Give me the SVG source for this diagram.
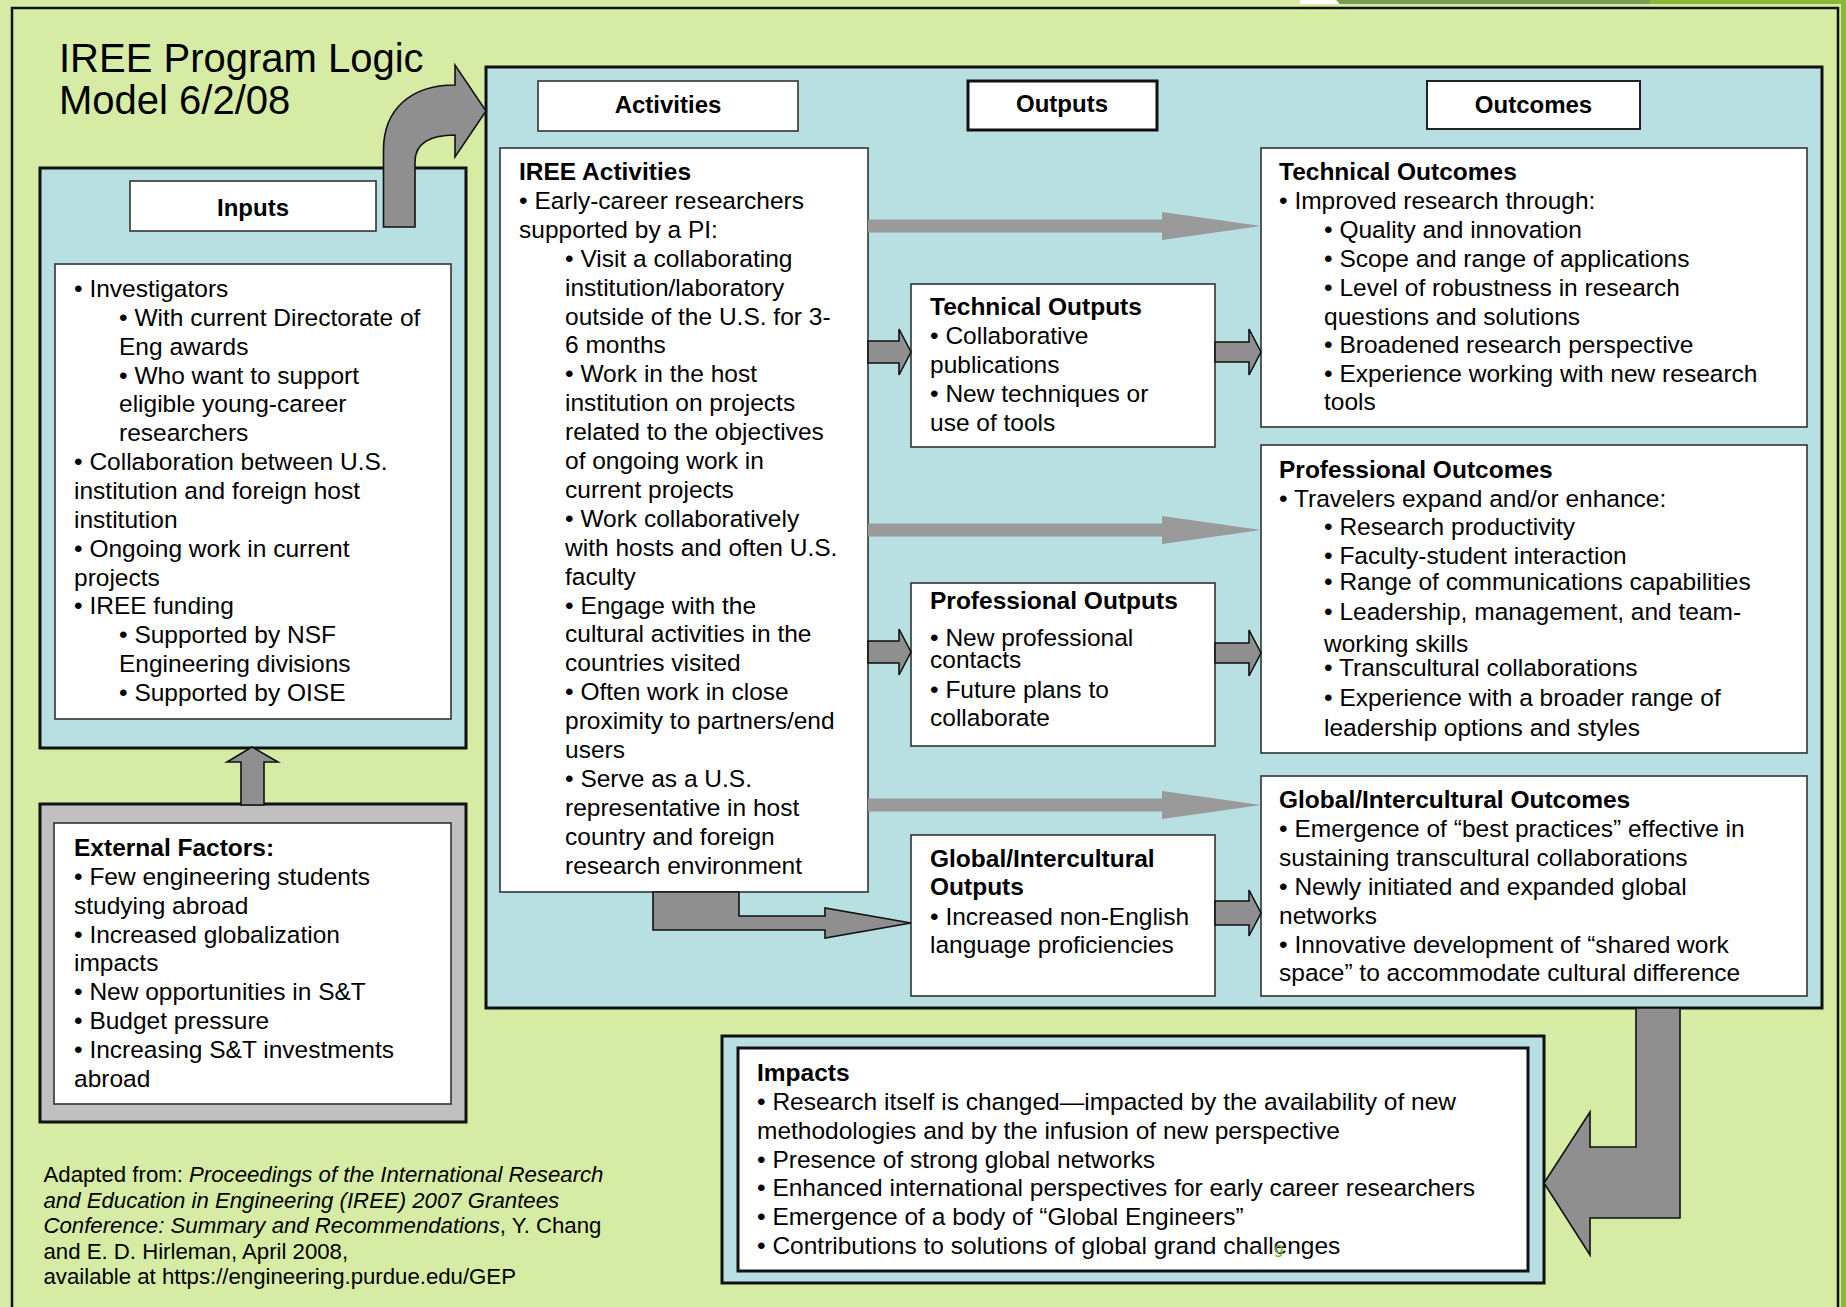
<svg xmlns="http://www.w3.org/2000/svg" width="1846" height="1307" viewBox="0 0 1846 1307">
<style>
.t{font-family:"Liberation Sans",Arial,sans-serif;font-size:24.5px;fill:#000}
.b{font-weight:bold}
.lbl{font-family:"Liberation Sans",Arial,sans-serif;font-size:24px;font-weight:bold;fill:#000;text-anchor:middle}
.cite{font-family:"Liberation Sans",Arial,sans-serif;font-size:22.2px;fill:#000}
.blue{fill:#B8DFE1;stroke:#111;stroke-width:3}
.wbox{fill:#fff;stroke:#333;stroke-width:1.6}
.thin{fill:#9A9A9A}
.fat{fill:#8F8F8F;stroke:#111;stroke-width:1.6;stroke-linejoin:miter}
</style>
<rect x="0" y="0" width="1846" height="1307" fill="#D6ECA4"/>
<rect x="1300" y="0" width="38" height="4" fill="#fff"/>
<polygon points="1336,0 1650,0 1650,4 1340,4" fill="#789E56"/>
<rect x="1650" y="0" width="196" height="4" fill="#8CB736"/>
<rect x="1841" y="0" width="5" height="1307" fill="#8CB736"/>
<rect x="12" y="8" width="1826" height="1320" fill="#D6ECA4" stroke="#111" stroke-width="2.5"/>

<text class="t" x="59" y="72" style="font-size:40px">IREE Program Logic</text>
<text class="t" x="59" y="114" style="font-size:40px">Model 6/2/08</text>

<g id="inputs">
<rect class="blue" x="40" y="168" width="426" height="580"/>
<rect class="wbox" x="130" y="181" width="246" height="50"/>
<text class="lbl" x="253" y="216">Inputs</text>
<rect class="wbox" x="55" y="264" width="396" height="455"/>
<text class="t">
<tspan x="74" y="297">• Investigators</tspan>
<tspan x="119" y="325.85">• With current Directorate of</tspan>
<tspan x="119" y="354.7">Eng awards</tspan>
<tspan x="119" y="383.55">• Who want to support</tspan>
<tspan x="119" y="412.4">eligible young-career</tspan>
<tspan x="119" y="441.25">researchers</tspan>
<tspan x="74" y="470.1">• Collaboration between U.S.</tspan>
<tspan x="74" y="498.95">institution and foreign host</tspan>
<tspan x="74" y="527.8">institution</tspan>
<tspan x="74" y="556.65">• Ongoing work in current</tspan>
<tspan x="74" y="585.5">projects</tspan>
<tspan x="74" y="614.35">• IREE funding</tspan>
<tspan x="119" y="643.2">• Supported by NSF</tspan>
<tspan x="119" y="672.05">Engineering divisions</tspan>
<tspan x="119" y="700.9">• Supported by OISE</tspan>
</text>
</g>

<g id="external-factors">
<rect x="40" y="804" width="426" height="318" fill="#C0C0C0" stroke="#111" stroke-width="3"/>
<rect class="wbox" x="54" y="823" width="397" height="281"/>
<text class="t">
<tspan x="74" y="856" font-weight="bold">External Factors:</tspan>
<tspan x="74" y="884.85">• Few engineering students</tspan>
<tspan x="74" y="913.7">studying abroad</tspan>
<tspan x="74" y="942.55">• Increased globalization</tspan>
<tspan x="74" y="971.4">impacts</tspan>
<tspan x="74" y="1000.25">• New opportunities in S&amp;T</tspan>
<tspan x="74" y="1029.1">• Budget pressure</tspan>
<tspan x="74" y="1057.95">• Increasing S&amp;T investments</tspan>
<tspan x="74" y="1086.8">abroad</tspan>
</text>
</g>

<g id="citation">
<text class="cite">
<tspan x="43.5" y="1182">Adapted from: <tspan font-style="italic">Proceedings of the International Research</tspan></tspan>
<tspan x="43.5" y="1207.5" font-style="italic">and Education in Engineering (IREE) 2007 Grantees</tspan>
<tspan x="43.5" y="1233"><tspan font-style="italic">Conference: Summary and Recommendations</tspan>, Y. Chang</tspan>
<tspan x="43.5" y="1258.5">and E. D. Hirleman, April 2008,</tspan>
<tspan x="43.5" y="1284">available at https://engineering.purdue.edu/GEP</tspan>
</text>
</g>

<g id="main-panel">
<rect class="blue" x="486" y="67" width="1336" height="941"/>
</g>

<g id="activities-label">
<rect class="wbox" x="538" y="81" width="260" height="50"/>
<text class="lbl" x="668" y="113">Activities</text>
</g>
<g id="outputs-label">
<rect x="968" y="81" width="189" height="49" fill="#fff" stroke="#111" stroke-width="3"/>
<text class="lbl" x="1062" y="112">Outputs</text>
</g>
<g id="outcomes-label">
<rect x="1427" y="81" width="213" height="48" fill="#fff" stroke="#222" stroke-width="2"/>
<text class="lbl" x="1533.5" y="113">Outcomes</text>
</g>

<g id="activities">
<rect class="wbox" x="500" y="148" width="368" height="744"/>
<text class="t">
<tspan x="519" y="180" font-weight="bold">IREE Activities</tspan>
<tspan x="519" y="208.9">• Early-career researchers</tspan>
<tspan x="519" y="237.8">supported by a PI:</tspan>
<tspan x="565" y="266.7">• Visit a collaborating</tspan>
<tspan x="565" y="295.6">institution/laboratory</tspan>
<tspan x="565" y="324.5">outside of the U.S. for 3-</tspan>
<tspan x="565" y="353.4">6 months</tspan>
<tspan x="565" y="382.3">• Work in the host</tspan>
<tspan x="565" y="411.2">institution on projects</tspan>
<tspan x="565" y="440.1">related to the objectives</tspan>
<tspan x="565" y="469">of ongoing work in</tspan>
<tspan x="565" y="497.9">current projects</tspan>
<tspan x="565" y="526.8">• Work collaboratively</tspan>
<tspan x="565" y="555.7">with hosts and often U.S.</tspan>
<tspan x="565" y="584.6">faculty</tspan>
<tspan x="565" y="613.5">• Engage with the</tspan>
<tspan x="565" y="642.4">cultural activities in the</tspan>
<tspan x="565" y="671.3">countries visited</tspan>
<tspan x="565" y="700.2">• Often work in close</tspan>
<tspan x="565" y="729.1">proximity to partners/end</tspan>
<tspan x="565" y="758">users</tspan>
<tspan x="565" y="786.9">• Serve as a U.S.</tspan>
<tspan x="565" y="815.8">representative in host</tspan>
<tspan x="565" y="844.7">country and foreign</tspan>
<tspan x="565" y="873.6">research environment</tspan>
</text>
</g>

<g id="technical-outputs">
<rect class="wbox" x="911" y="284" width="304" height="163"/>
<text class="t">
<tspan x="930" y="315" font-weight="bold">Technical Outputs</tspan>
<tspan x="930" y="344">• Collaborative</tspan>
<tspan x="930" y="373">publications</tspan>
<tspan x="930" y="402">• New techniques or</tspan>
<tspan x="930" y="431">use of tools</tspan>
</text>
</g>

<g id="professional-outputs">
<rect class="wbox" x="911" y="583" width="304" height="163"/>
<text class="t">
<tspan x="930" y="609" font-weight="bold">Professional Outputs</tspan>
<tspan x="930" y="646">• New professional</tspan>
<tspan x="930" y="668">contacts</tspan>
<tspan x="930" y="698">• Future plans to</tspan>
<tspan x="930" y="726">collaborate</tspan>
</text>
</g>

<g id="global-outputs">
<rect class="wbox" x="911" y="835" width="304" height="161"/>
<text class="t">
<tspan x="930" y="867" font-weight="bold">Global/Intercultural</tspan>
<tspan x="930" y="895" font-weight="bold">Outputs</tspan>
<tspan x="930" y="924.5">• Increased non-English</tspan>
<tspan x="930" y="953">language proficiencies</tspan>
</text>
</g>

<g id="technical-outcomes">
<rect class="wbox" x="1261" y="148" width="546" height="279"/>
<text class="t">
<tspan x="1279" y="180" font-weight="bold">Technical Outcomes</tspan>
<tspan x="1279" y="209">• Improved research through:</tspan>
<tspan x="1324" y="238">• Quality and innovation</tspan>
<tspan x="1324" y="267">• Scope and range of applications</tspan>
<tspan x="1324" y="296">• Level of robustness in research</tspan>
<tspan x="1324" y="325">questions and solutions</tspan>
<tspan x="1324" y="353">• Broadened research perspective</tspan>
<tspan x="1324" y="382">• Experience working with new research</tspan>
<tspan x="1324" y="410">tools</tspan>
</text>
</g>

<g id="professional-outcomes">
<rect class="wbox" x="1261" y="445" width="546" height="308"/>
<text class="t">
<tspan x="1279" y="478" font-weight="bold">Professional Outcomes</tspan>
<tspan x="1279" y="506.5">• Travelers expand and/or enhance:</tspan>
<tspan x="1324" y="535">• Research productivity</tspan>
<tspan x="1324" y="564">• Faculty-student interaction</tspan>
<tspan x="1324" y="590">• Range of communications capabilities</tspan>
<tspan x="1324" y="619.5">• Leadership, management, and team-</tspan>
<tspan x="1324" y="652">working skills</tspan>
<tspan x="1324" y="676">• Transcultural collaborations</tspan>
<tspan x="1324" y="705.5">• Experience with a broader range of</tspan>
<tspan x="1324" y="736">leadership options and styles</tspan>
</text>
</g>

<g id="global-outcomes">
<rect class="wbox" x="1261" y="776" width="546" height="220"/>
<text class="t">
<tspan x="1279" y="808" font-weight="bold">Global/Intercultural Outcomes</tspan>
<tspan x="1279" y="837">• Emergence of “best practices” effective in</tspan>
<tspan x="1279" y="866">sustaining transcultural collaborations</tspan>
<tspan x="1279" y="895">• Newly initiated and expanded global</tspan>
<tspan x="1279" y="923.5">networks</tspan>
<tspan x="1279" y="952.5">• Innovative development of “shared work</tspan>
<tspan x="1279" y="981">space” to accommodate cultural difference</tspan>
</text>
</g>

<g id="impacts">
<rect class="blue" x="722" y="1036" width="822" height="247"/>
<rect x="738" y="1048" width="790" height="223" fill="#fff" stroke="#111" stroke-width="3"/>
<text class="t">
<tspan x="757" y="1081" font-weight="bold">Impacts</tspan>
<tspan x="757" y="1109.85">• Research itself is changed—impacted by the availability of new</tspan>
<tspan x="757" y="1138.7">methodologies and by the infusion of new perspective</tspan>
<tspan x="757" y="1167.55">• Presence of strong global networks</tspan>
<tspan x="757" y="1196.4">• Enhanced international perspectives for early career researchers</tspan>
<tspan x="757" y="1225.25">• Emergence of a body of “Global Engineers”</tspan>
<tspan x="757" y="1254.1">• Contributions to solutions of global grand challenges</tspan>
</text>
<text x="1274" y="1257" style="font-family:'Liberation Sans',Arial,sans-serif;font-size:17px;fill:#7DB33A">9</text>
</g>

<g id="connectors">
<path class="fat" d="M383.5 227 L383.5 150 C383.5 110 410 85 455 85 L455 65 L486 111 L455 157 L455 135 C432 135 415 142 415 162 L415 227 Z"/>
<polygon class="fat" points="241,805 241,762 227,762 252,747 278,762 264,762 264,805"/>
<polygon class="thin" points="868,219.5 1162,219.5 1162,212 1261,226 1162,240 1162,232.5 868,232.5"/>
<polygon class="thin" points="868,523.5 1162,523.5 1162,516 1261,530 1162,544 1162,536.5 868,536.5"/>
<polygon class="thin" points="868,798.5 1162,798.5 1162,791 1261,805 1162,819 1162,811.5 868,811.5"/>
<polygon class="fat" points="868,341 899,341 899,329 911,352 899,375 899,363 868,363"/>
<polygon class="fat" points="868,641 899,641 899,629 911,652 899,675 899,663 868,663"/>
<polygon class="fat" points="1215,342 1249,342 1249,329 1261,352 1249,375 1249,362 1215,362"/>
<polygon class="fat" points="1215,643 1249,643 1249,630 1261,653 1249,676 1249,663 1215,663"/>
<polygon class="fat" points="1215,901 1249,901 1249,890 1261,913 1249,936 1249,925 1215,925"/>
<polygon class="fat" points="653,892 653,930 825,930 825,938 911,923 825,908 825,916 739,916 739,892"/>
<polygon class="fat" points="1636,1008 1680,1008 1680,1218 1590,1218 1590,1255 1544,1183 1590,1112 1590,1147 1636,1147"/>
</g>
</svg>
